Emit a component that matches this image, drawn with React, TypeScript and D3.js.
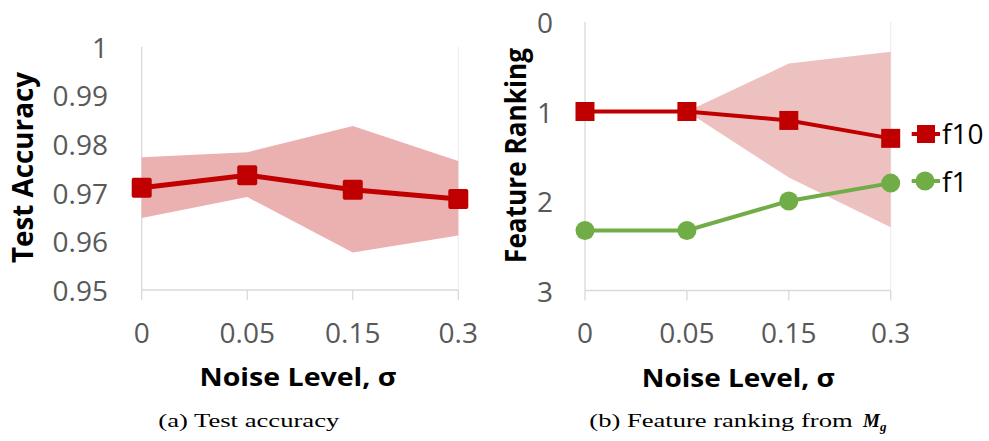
import React from "react";
import * as d3 from "d3";

const categories = ["0", "0.05", "0.15", "0.3"];
// (a) Test accuracy
const accMean = [0.971, 0.9736, 0.9706, 0.9687];
const accUpper = [0.9773, 0.9783, 0.9837, 0.9765];
const accLower = [0.9648, 0.9691, 0.9577, 0.9612];
const accTicks = [0.95, 0.96, 0.97, 0.98, 0.99, 1];
const accTickLabels = ["0.95", "0.96", "0.97", "0.98", "0.99", "1"];
// (b) Feature ranking
const f10 = [1.0, 1.0, 1.1, 1.3];
const f10Upper = [1.0, 1.0, 0.464, 0.333];
const f10Lower = [1.0, 1.0, 1.738, 2.292];
const f1 = [2.33, 2.33, 2.0, 1.8];
const rankTicks = [0, 1, 2, 3];
const seriesNames = ["f10", "f1"];

const RED = "#C00000";
const GREEN = "#70AD47";
const GRID = "#D9D9D9";
const TICK_COLOR = "#595959";
const FONT = "'Open Sans', 'DejaVu Sans', sans-serif";
const SERIF = "'Liberation Serif', 'DejaVu Serif', serif";

export default function App() {
  const xA = d3.scalePoint<string>().domain(categories).range([141.7, 458.3]);
  const yA = d3.scaleLinear().domain([0.95, 1]).range([290, 46.7]);
  const xB = d3.scalePoint<string>().domain(categories).range([585, 890.7]);
  const yB = d3.scaleLinear().domain([0, 3]).range([22, 290.5]);

  const idx = categories.map((_, i) => i);

  const areaA = d3
    .area<number>()
    .x((i) => xA(categories[i])!)
    .y0((i) => yA(accLower[i]))
    .y1((i) => yA(accUpper[i]));
  const lineA = d3
    .line<number>()
    .x((i) => xA(categories[i])!)
    .y((i) => yA(accMean[i]));

  const areaB = d3
    .area<number>()
    .x((i) => xB(categories[i])!)
    .y0((i) => yB(f10Lower[i]))
    .y1((i) => yB(f10Upper[i]));
  const lineF10 = d3
    .line<number>()
    .x((i) => xB(categories[i])!)
    .y((i) => yB(f10[i]));
  const lineF1 = d3
    .line<number>()
    .x((i) => xB(categories[i])!)
    .y((i) => yB(f1[i]));

  const [yA0, yA1] = yA.range();
  const [yB0, yB1] = [yB(3), yB(0)];

  return (
    <svg
      width={989}
      height={441}
      style={{ position: "absolute", left: 0, top: 0, background: "#fff" }}
    >
      <rect x={0} y={0} width={989} height={441} fill="#fff" />

      {/* ---------- Left chart ---------- */}
      <g>
        <line x1={xA(categories[0])} x2={xA(categories[0])} y1={yA1} y2={yA0} stroke={GRID} strokeWidth={1.3} />
        <line x1={xA(categories[3])} x2={xA(categories[3])} y1={yA1} y2={yA0} stroke="#EBEBEB" strokeWidth={1} />
        <line x1={xA(categories[0])} x2={xA(categories[3])} y1={yA0} y2={yA0} stroke={GRID} strokeWidth={1.3} />
        {categories.map((c) => (
          <line key={c} x1={xA(c)} x2={xA(c)} y1={yA0} y2={yA0 + 10} stroke={GRID} strokeWidth={1.3} />
        ))}
        <path d={areaA(idx)!} fill="#EBB1B1" />
        <path d={lineA(idx)!} fill="none" stroke={RED} strokeWidth={5} />
        {idx.map((i) => (
          <rect
            key={i}
            x={xA(categories[i])! - 10}
            y={yA(accMean[i]) - 10}
            width={20}
            height={20}
            rx={2}
            fill={RED}
          />
        ))}
        {accTicks.map((t, i) => (
          <text
            key={t}
            x={108}
            y={yA(t)}
            textAnchor="end"
            dominantBaseline="central"
            fontFamily={FONT}
            fontSize={28}
            fill={TICK_COLOR}
          >
            {accTickLabels[i]}
          </text>
        ))}
        {categories.map((c) => (
          <text key={c} x={xA(c)} y={343.3} textAnchor="middle" fontFamily={FONT} fontSize={28} fill={TICK_COLOR}>
            {c}
          </text>
        ))}
        <text
          transform="translate(33,167.5) rotate(-90)"
          textAnchor="middle"
          fontFamily={FONT}
          fontWeight="bold"
          fontSize={29}
          fill="#000"
          textLength={191}
          lengthAdjust="spacingAndGlyphs"
        >
          Test Accuracy
        </text>
        <text
          x={298}
          y={386}
          textAnchor="middle"
          fontFamily={FONT}
          fontWeight="bold"
          fontSize={25}
          fill="#000"
          textLength={197}
          lengthAdjust="spacingAndGlyphs"
        >
          Noise Level, σ
        </text>
        <text
          x={158.3}
          y={426.7}
          fontFamily={SERIF}
          fontSize={17.8}
          fill="#000"
          textLength={181}
          lengthAdjust="spacingAndGlyphs"
        >
          (a) Test accuracy
        </text>
      </g>

      {/* ---------- Right chart ---------- */}
      <g>
        <line x1={xB(categories[0])} x2={xB(categories[0])} y1={yB1} y2={yB0} stroke={GRID} strokeWidth={1.3} />
        <line x1={xB(categories[3])} x2={xB(categories[3])} y1={yB1} y2={yB0} stroke="#EBEBEB" strokeWidth={1} />
        <line x1={xB(categories[0])} x2={xB(categories[3])} y1={yB0} y2={yB0} stroke={GRID} strokeWidth={1.3} />
        {categories.map((c) => (
          <line key={c} x1={xB(c)} x2={xB(c)} y1={yB0} y2={yB0 + 10} stroke={GRID} strokeWidth={1.3} />
        ))}
        <path d={areaB(idx)!} fill="#EEC1C1" />
        <path d={lineF10(idx)!} fill="none" stroke={RED} strokeWidth={4} />
        <path d={lineF1(idx)!} fill="none" stroke={GREEN} strokeWidth={4} />
        {idx.map((i) => (
          <rect
            key={"s" + i}
            x={xB(categories[i])! - 9.5}
            y={yB(f10[i]) - 9.5}
            width={19}
            height={19}
            fill={RED}
          />
        ))}
        {idx.map((i) => (
          <circle key={"c" + i} cx={xB(categories[i])} cy={yB(f1[i])} r={9.5} fill={GREEN} />
        ))}
        {rankTicks.map((t) => (
          <text
            key={t}
            x={553}
            y={yB(t)}
            textAnchor="end"
            dominantBaseline="central"
            fontFamily={FONT}
            fontSize={28}
            fill={TICK_COLOR}
          >
            {t}
          </text>
        ))}
        {categories.map((c) => (
          <text key={c} x={xB(c)} y={343.3} textAnchor="middle" fontFamily={FONT} fontSize={28} fill={TICK_COLOR}>
            {c}
          </text>
        ))}
        <text
          transform="translate(526,155.5) rotate(-90)"
          textAnchor="middle"
          fontFamily={FONT}
          fontWeight="bold"
          fontSize={29}
          fill="#000"
          textLength={215}
          lengthAdjust="spacingAndGlyphs"
        >
          Feature Ranking
        </text>
        <text
          x={738.3}
          y={387}
          textAnchor="middle"
          fontFamily={FONT}
          fontWeight="bold"
          fontSize={25}
          fill="#000"
          textLength={193}
          lengthAdjust="spacingAndGlyphs"
        >
          Noise Level, σ
        </text>
        <text x={589.3} y={426.7} fontFamily={SERIF} fontSize={17.8} fill="#000">
          <tspan textLength={270} lengthAdjust="spacingAndGlyphs">(b) Feature ranking from </tspan>
          <tspan x={863} fontWeight="bold" fontStyle="italic" fontSize={19}>M</tspan>
          <tspan fontWeight="bold" fontStyle="italic" fontSize={13} dy={4}>g</tspan>
        </text>

        {/* legend */}
        <line x1={911.7} x2={940} y1={134} y2={134} stroke={RED} strokeWidth={4} />
        <rect x={917} y={125} width={18} height={18} fill={RED} />
        <text x={942} y={143.5} fontFamily={FONT} fontSize={28} fill="#000">
          {seriesNames[0]}
        </text>
        <line x1={911.7} x2={940} y1={181} y2={181} stroke={GREEN} strokeWidth={4} />
        <circle cx={925} cy={181} r={9.5} fill={GREEN} />
        <text x={942} y={191.5} fontFamily={FONT} fontSize={28} fill="#000">
          {seriesNames[1]}
        </text>
      </g>
    </svg>
  );
}
